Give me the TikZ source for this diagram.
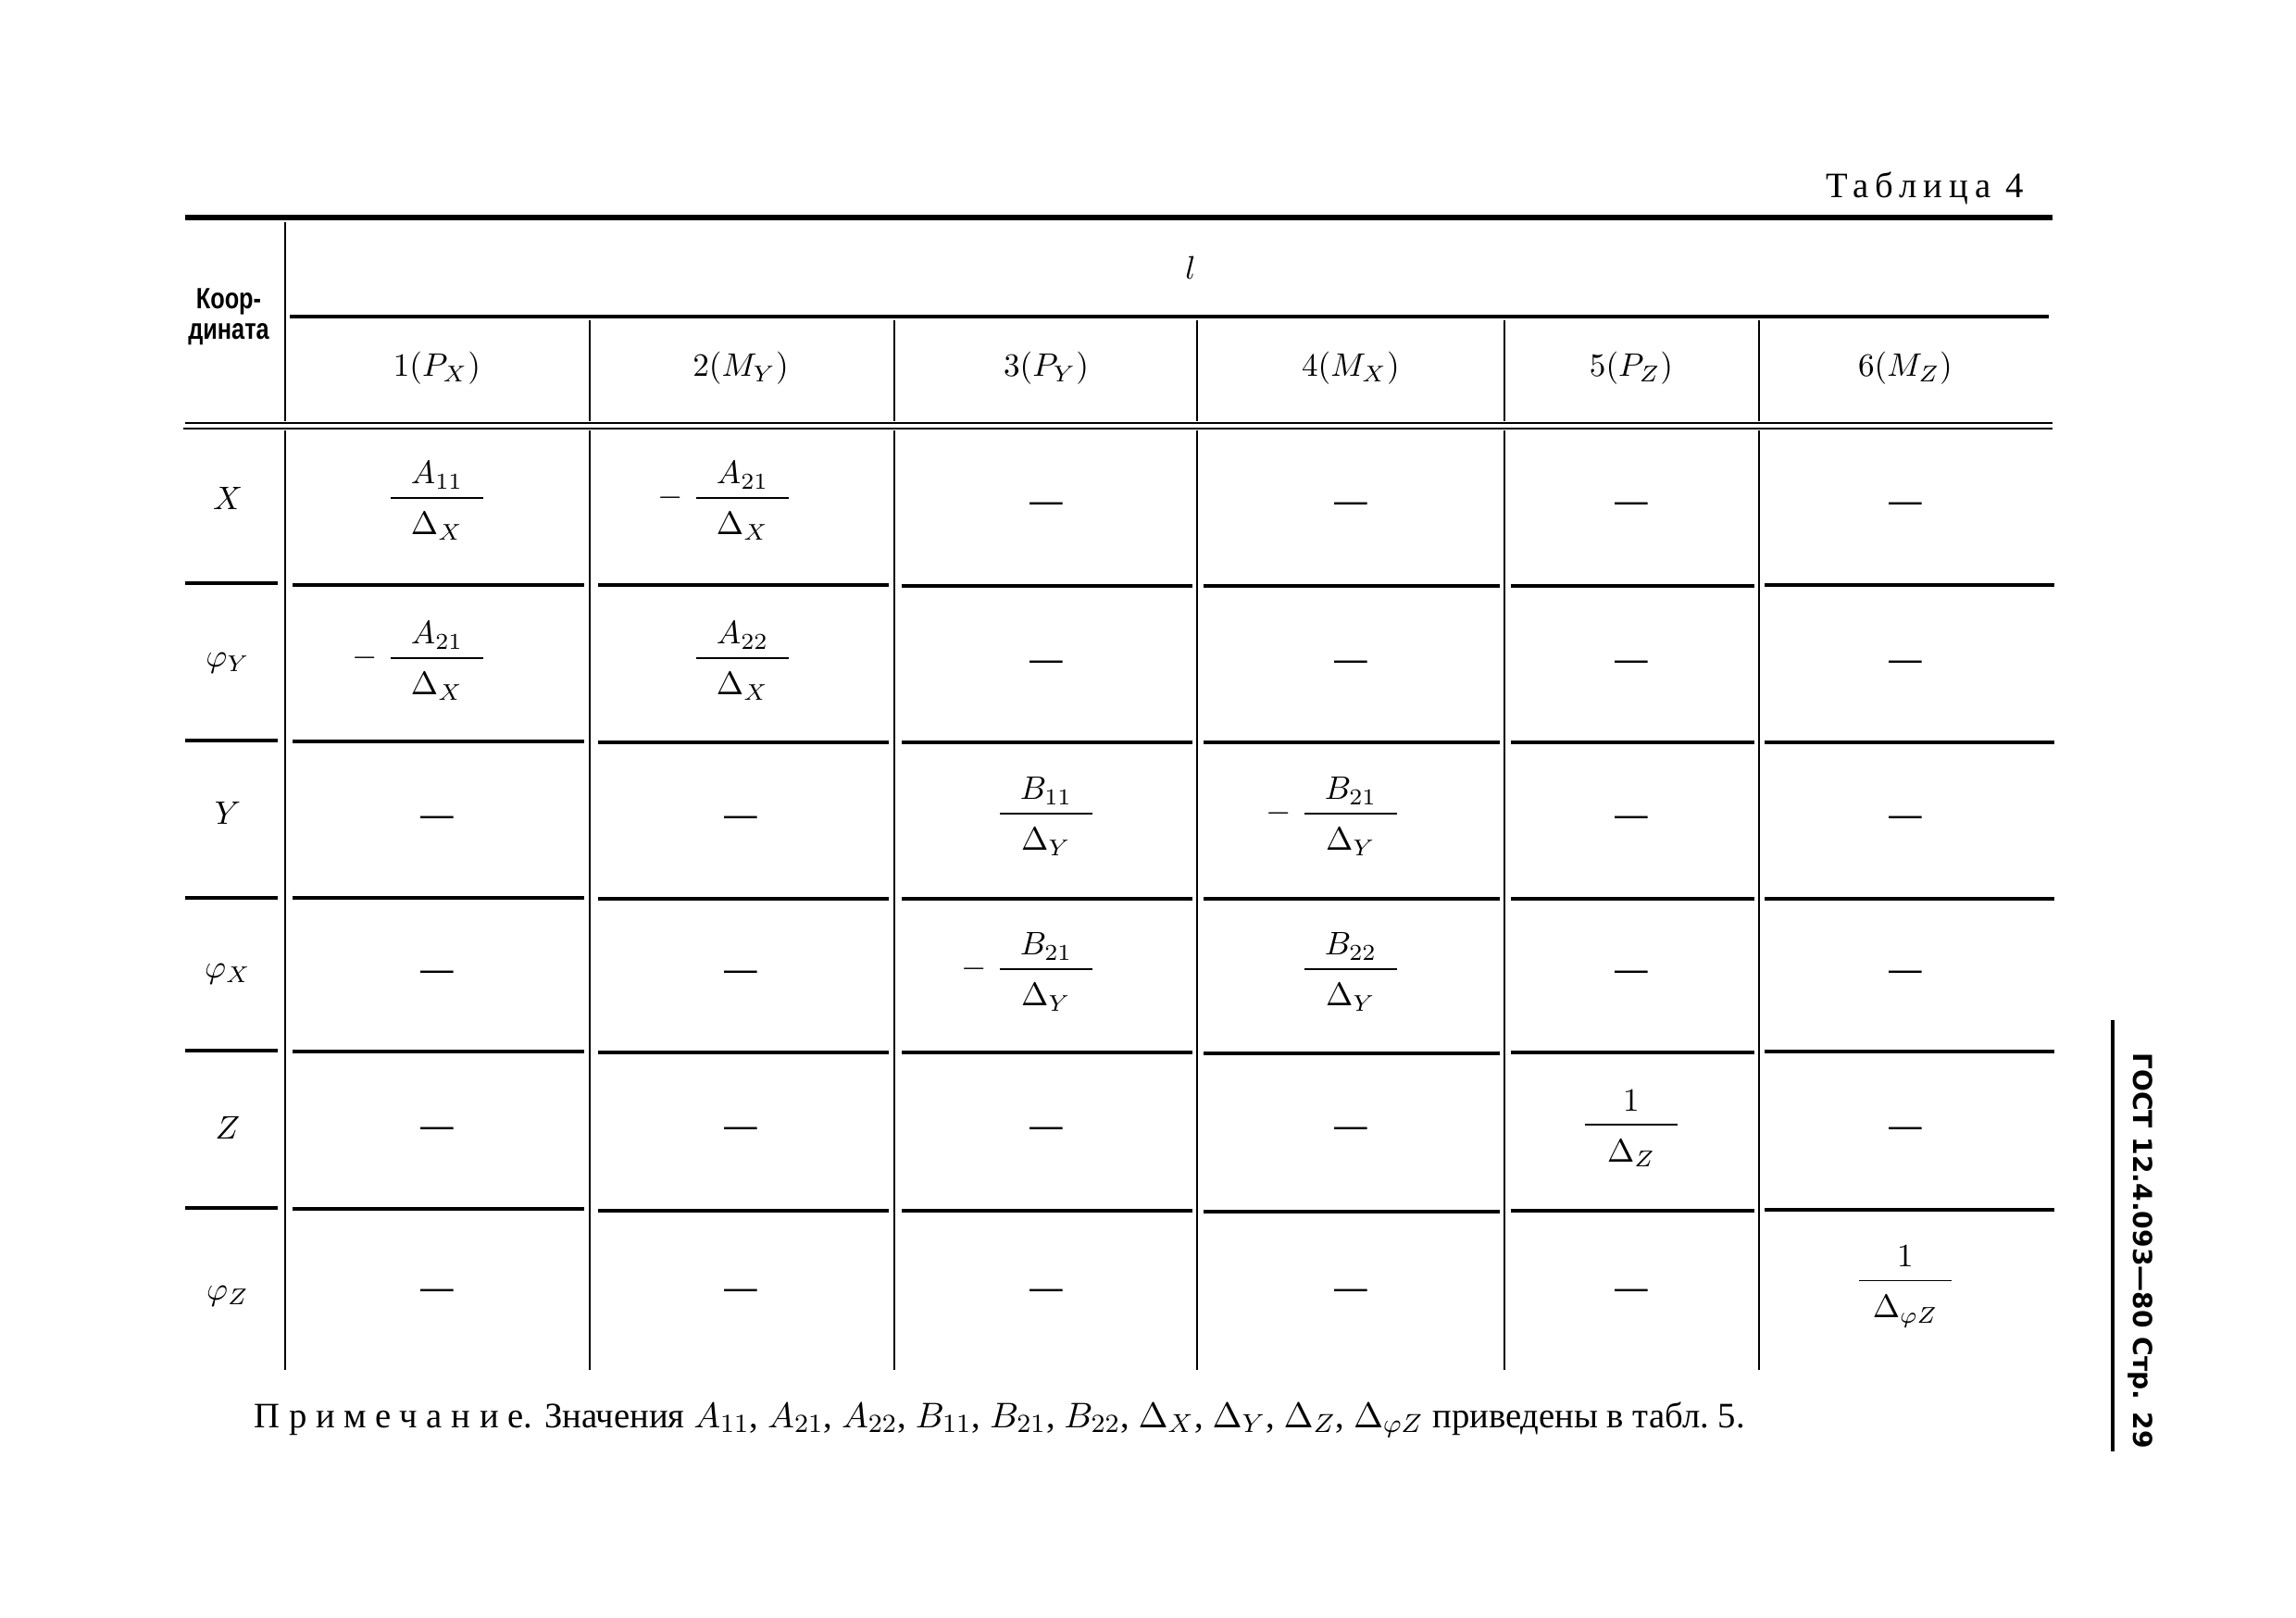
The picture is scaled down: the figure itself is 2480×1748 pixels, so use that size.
\documentclass[tikz,border=0pt]{standalone}
\usepackage{amsmath}
\usepackage{fontspec}
\setmainfont{Liberation Serif}
\setsansfont{Liberation Sans}
\newfontfamily\spaced[LetterSpace=25]{Liberation Serif}
\newfontfamily\titlefont[LetterSpace=18]{Liberation Serif}
\newfontfamily\narrowbold[FakeStretch=0.8]{Liberation Sans}
\newfontfamily\gostfont{DejaVu Sans}
\usepackage{tikz}

\newcommand{\cellfrac}[2]{$\dfrac{\makebox[1cm]{$#1$}}{\rule{0pt}{10pt}#2}$}
\newcommand{\negfrac}[2]{\llap{$-\;$}\cellfrac{#1}{#2}}
\newcommand{\nil}{\textbf{---}}

\begin{document}
\begin{tikzpicture}[x = 0.01cm, y = -0.01cm,
    cell/.style = {inner sep = 0pt},
    dashcell/.style = {inner sep = 0pt, yshift = -2pt},
    toprule/.style = {line width = 1.5pt},
    midrule/.style = {line width = 1.1pt},
    colrule/.style = {line width = 0.7pt}]
    \useasboundingbox (0,0) rectangle (2480,1748);

    \node [anchor = base east, inner sep = 0pt, font = \titlefont\fontsize{11}{13}\selectfont] (tab) at (2187,213) {Таблица 4};

    % rules of the head
    \draw [toprule] (200,235) -- (2217,235);
    \draw [midrule] (313,342) -- (2213,342);
    \draw [colrule] (200,457) -- (2217,457);
    \draw [colrule] (198,463) -- (2217,463);
    \draw [colrule] (308,240) -- (308,455);
    \draw [colrule] (637,346) -- (637,455);
    \draw [colrule] (966,346) -- (966,455);
    \draw [colrule] (1293,346) -- (1293,455);
    \draw [colrule] (1625,346) -- (1625,455);
    \draw [colrule] (1900,346) -- (1900,455);

    % rules of the body
    \draw [colrule] (308,465) -- (308,1480);
    \draw [colrule] (637,465) -- (637,1480);
    \draw [colrule] (966,465) -- (966,1480);
    \draw [colrule] (1293,465) -- (1293,1480);
    \draw [colrule] (1625,465) -- (1625,1480);
    \draw [colrule] (1900,465) -- (1900,1480);
    \draw [midrule] (200,630) -- (300,630) (316,632) -- (631,632) (646,632) -- (960,632) (974,633) -- (1288,633) (1300,633) -- (1620,633) (1632,633) -- (1895,633) (1906,632) -- (2219,632);
    \draw [midrule] (200,800) -- (300,800) (316,801) -- (631,801) (646,802) -- (960,802) (974,802) -- (1288,802) (1300,802) -- (1620,802) (1632,802) -- (1895,802) (1906,802) -- (2219,802);
    \draw [midrule] (200,970) -- (300,970) (316,970) -- (631,970) (646,971) -- (960,971) (974,971) -- (1288,971) (1300,971) -- (1620,971) (1632,971) -- (1895,971) (1906,971) -- (2219,971);
    \draw [midrule] (200,1135) -- (300,1135) (316,1136) -- (631,1136) (646,1137) -- (960,1137) (974,1137) -- (1288,1137) (1300,1138) -- (1620,1138) (1632,1137) -- (1895,1137) (1906,1136) -- (2219,1136);
    \draw [midrule] (200,1305) -- (300,1305) (316,1306) -- (631,1306) (646,1308) -- (960,1308) (974,1308) -- (1288,1308) (1300,1309) -- (1620,1309) (1632,1308) -- (1895,1308) (1906,1307) -- (2219,1307);

    % head
    \node [align = center, font = \narrowbold\bfseries\fontsize{9}{9.5}\selectfont] (koord) at (247,342) {Коор-\\дината};
    \node (l) at (1286,289) {$l$};
    \node [cell] (h1) at (472,398) {$1(P_X)$};
    \node [cell] (h2) at (800,398) {$2(M_Y)$};
    \node [cell] (h3) at (1130,398) {$3(P_Y)$};
    \node [cell] (h4) at (1459,398) {$4(M_X)$};
    \node [cell] (h5) at (1762,398) {$5(P_Z)$};
    \node [cell] (h6) at (2058,398) {$6(M_Z)$};

    % row labels
    \node [cell] (rx) at (246,538) {$X$};
    \node [cell] (rfy) at (246,716) {$\varphi_Y$};
    \node [cell] (ry) at (246,878) {$Y$};
    \node [cell] (rfx) at (246,1052) {$\varphi_X$};
    \node [cell] (rz) at (246,1218) {$Z$};
    \node [cell] (rfz) at (246,1400) {$\varphi_Z$};

    % row X
    \node [cell] (x1) at (472,541) {\cellfrac{A_{11}}{\Delta_X}};
    \node [cell] (x2) at (802,541) {\negfrac{A_{21}}{\Delta_X}};
    \node [dashcell] (x3) at (1130,541) {\nil};
    \node [dashcell] (x4) at (1459,541) {\nil};
    \node [dashcell] (x5) at (1762,541) {\nil};
    \node [dashcell] (x6) at (2058,541) {\nil};

    % row phi Y
    \node [cell] (fy1) at (472,714) {\negfrac{A_{21}}{\Delta_X}};
    \node [cell] (fy2) at (802,714) {\cellfrac{A_{22}}{\Delta_X}};
    \node [dashcell] (fy3) at (1130,712) {\nil};
    \node [dashcell] (fy4) at (1459,712) {\nil};
    \node [dashcell] (fy5) at (1762,712) {\nil};
    \node [dashcell] (fy6) at (2058,712) {\nil};

    % row Y
    \node [dashcell] (y1) at (472,880) {\nil};
    \node [dashcell] (y2) at (800,880) {\nil};
    \node [cell] (y3) at (1130,882) {\cellfrac{B_{11}}{\Delta_Y}};
    \node [cell] (y4) at (1459,882) {\negfrac{B_{21}}{\Delta_Y}};
    \node [dashcell] (y5) at (1762,880) {\nil};
    \node [dashcell] (y6) at (2058,880) {\nil};

    % row phi X
    \node [dashcell] (fx1) at (472,1047) {\nil};
    \node [dashcell] (fx2) at (800,1047) {\nil};
    \node [cell] (fx3) at (1130,1050) {\negfrac{B_{21}}{\Delta_Y}};
    \node [cell] (fx4) at (1459,1050) {\cellfrac{B_{22}}{\Delta_Y}};
    \node [dashcell] (fx5) at (1762,1047) {\nil};
    \node [dashcell] (fx6) at (2058,1047) {\nil};

    % row Z
    \node [dashcell] (z1) at (472,1216) {\nil};
    \node [dashcell] (z2) at (800,1216) {\nil};
    \node [dashcell] (z3) at (1130,1216) {\nil};
    \node [dashcell] (z4) at (1459,1216) {\nil};
    \node [cell] (z5) at (1762,1219) {\cellfrac{1}{\Delta_Z}};
    \node [dashcell] (z6) at (2058,1216) {\nil};

    % row phi Z
    \node [dashcell] (fz1) at (472,1391) {\nil};
    \node [dashcell] (fz2) at (800,1391) {\nil};
    \node [dashcell] (fz3) at (1130,1391) {\nil};
    \node [dashcell] (fz4) at (1459,1391) {\nil};
    \node [dashcell] (fz5) at (1762,1391) {\nil};
    \node [cell] (fz6) at (2058,1390) {\cellfrac{1}{\Delta_{\varphi Z}}};

    % note and page mark
    \node [anchor = base west, inner sep = 0pt, font = \fontsize{11}{13}\selectfont] (note) at (274,1542) {{\spaced Примечание}. Значения $A_{11}$, $A_{21}$, $A_{22}$, $B_{11}$, $B_{21}$, $B_{22}$, $\Delta_X$, $\Delta_Y$, $\Delta_Z$, $\Delta_{\varphi Z}$ приведены в табл.~5.};
    \draw [midrule] (2282,1102) -- (2282,1568);
    \node [rotate = -90, font = \gostfont\bfseries\fontsize{8}{10}\selectfont] (gost) at (2312,1351) {ГОСТ 12.4.093—80 Стр. 29};
\end{tikzpicture}
\end{document}
